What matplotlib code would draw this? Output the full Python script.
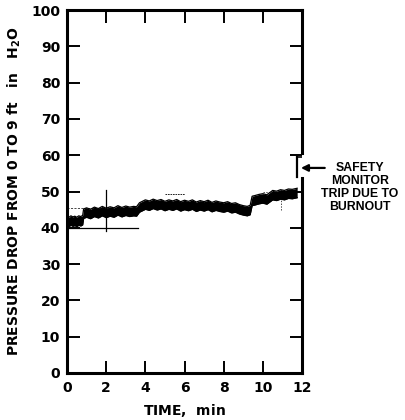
"""Pressure drop trace up to safety-monitor trip."""
import matplotlib.pyplot as plt
import numpy as np

# recorder trace, read by hand (time in min, pressure drop in in H2O)
time_min = [0.00, 0.10, 0.20, 0.30, 0.40, 0.50, 0.60, 0.70, 0.80, 0.85,
            1.00, 1.20, 1.40, 1.60, 1.80, 2.00, 2.20, 2.40, 2.60, 2.80,
            3.00, 3.20, 3.40, 3.55, 3.70, 3.85, 4.00, 4.20, 4.40, 4.60,
            4.80, 5.00, 5.20, 5.40, 5.60, 5.80, 6.00, 6.20, 6.40, 6.60,
            6.80, 7.00, 7.20, 7.40, 7.60, 7.80, 8.00, 8.20, 8.40, 8.60,
            8.80, 9.00, 9.20, 9.35, 9.45, 9.60, 9.80, 10.00, 10.20, 10.35,
            10.50, 10.70, 10.90, 11.10, 11.30, 11.50, 11.75]
dp_inh2o = [41.8, 41.6, 42.0, 41.7, 41.9, 41.6, 42.0, 41.8, 42.1, 43.9,
            44.2, 43.8, 44.4, 44.0, 44.6, 44.1, 44.5, 44.2, 44.8, 44.3,
            44.7, 44.4, 44.6, 44.5, 45.6, 46.0, 46.4, 46.1, 46.6, 46.2,
            46.5, 46.0, 46.4, 46.1, 46.5, 45.9, 46.3, 46.0, 46.4, 45.8,
            46.2, 45.9, 46.3, 45.7, 46.1, 45.8, 45.6, 45.9, 45.4, 45.6,
            45.1, 44.8, 44.6, 44.9, 47.4, 47.6, 47.9, 48.1, 47.8, 48.4,
            49.0, 48.8, 49.2, 49.0, 49.4, 49.3, 49.6]
band_half = 1.3  # half-width of the smeared pen trace

# burnout spike at the trip point
trip_time = 11.75
trip_range = [54.0, 59.5]
arrow_level = 56.5

x_ticks = [0, 2, 4, 6, 8, 10, 12]
y_ticks = [0, 10, 20, 30, 40, 50, 60, 70, 80, 90, 100]

plt.rcParams["font.family"] = "DejaVu Sans"
plt.rcParams["font.weight"] = "bold"

fig = plt.figure(figsize=(4.06, 4.20), dpi=100)
ax = fig.add_axes([0.165, 0.112, 0.579, 0.864])

# faint chart-paper lines behind the trace
ax.plot([0, 3.6], [40, 40], color="black", lw=0.9)
ax.plot([2, 2], [39, 50.5], color="black", lw=0.9)
ax.plot([0, 2.2], [45.5, 45.5], color="black", lw=0.5, ls=(0, (3, 2)))
ax.plot([5.0, 6.0], [49.3, 49.3], color="black", lw=0.6, ls=(0, (2, 1)))
ax.plot([10.0, 11.3], [49.8, 49.8], color="black", lw=0.5, ls=(0, (2, 2)))
ax.plot([10.9, 10.9], [45.0, 50.5], color="black", lw=0.5, ls=(0, (2, 2)))

dp = np.array(dp_inh2o)
ax.fill_between(time_min, dp - band_half, dp + band_half, color="black", lw=0)
ax.plot(time_min, dp + band_half, color="black", lw=0.9)
ax.plot(time_min, dp - band_half, color="black", lw=0.9)
ax.plot([trip_time, trip_time], trip_range, color="black", lw=1.6)
ax.plot([trip_time, 12.0], [trip_range[1], trip_range[1]], color="black", lw=1.2)

ax.set_xlim(0, 12)
ax.set_ylim(0, 100)
ax.set_xticks(x_ticks)
ax.set_yticks(y_ticks)
ax.set_xticklabels([str(t) for t in x_ticks], fontsize=10, fontweight="bold")
ax.set_yticklabels([str(t) for t in y_ticks], fontsize=10, fontweight="bold")
ax.tick_params(direction="in", length=9, width=1.4, top=True, right=True,
               pad=5)
ax.tick_params(axis="x", pad=6)

# right spine is broken where the trip note sits
ax.spines["right"].set_visible(False)
ax.plot([12, 12], [0, 53.7], color="black", lw=2.2, clip_on=False)
ax.plot([12, 12], [60.5, 100], color="black", lw=2.2, clip_on=False)
for s in ["left", "top", "bottom"]:
    ax.spines[s].set_linewidth(2.2)

ax.annotate("", xy=(11.8, arrow_level), xytext=(13.3, arrow_level),
            arrowprops=dict(arrowstyle="-|>", color="black", lw=1.6,
                            mutation_scale=10),
            annotation_clip=False)
ax.text(14.95, arrow_level + 1.6, "SAFETY\nMONITOR\nTRIP DUE TO\nBURNOUT",
        ha="center", va="top", fontsize=8.8, fontweight="bold",
        family="Liberation Sans", linespacing=1.1)

ax.set_xlabel("TIME,  $\\mathregular{min}$", fontsize=10, fontweight="bold",
              labelpad=5)
ax.set_ylabel("PRESSURE DROP FROM 0 TO 9 ft   in   H$_\\mathregular{2}$O",
              fontsize=10, fontweight="bold", labelpad=6)

fig.savefig("out.png", dpi=100)
